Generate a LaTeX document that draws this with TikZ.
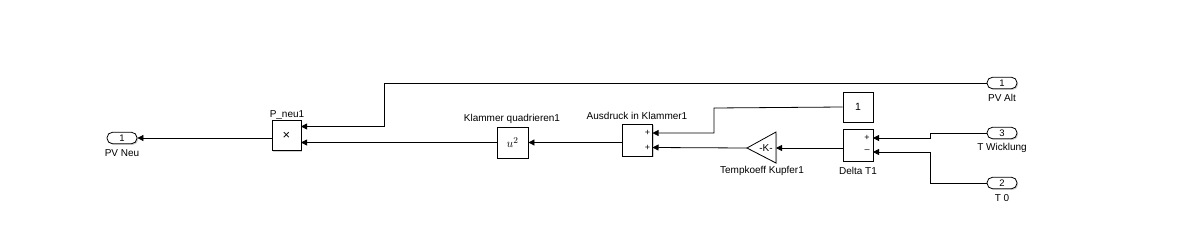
\documentclass[tikz,border=0pt]{standalone}
\usepackage{fontspec}
\setmainfont{Liberation Sans}
\usetikzlibrary{arrows.meta,shadows}
\begin{document}
\begin{tikzpicture}[x=1pt,y=-1pt,
  shd/.style={drop shadow={shadow xshift=1.2pt,shadow yshift=-1.2pt,fill=black!30,opacity=0.6}},
  blk/.style={draw, fill=white, line width=0.8pt, inner sep=0pt, shd, font=\fontsize{10.5}{11}\selectfont},
  port/.style={draw, fill=white, line width=0.8pt, rounded corners=5.5pt, minimum width=30pt, minimum height=11.5pt, inner sep=0pt, shd, font=\fontsize{9.5}{10}\selectfont},
  lbl/.style={font=\fontsize{10}{11}\selectfont, inner sep=0pt},
  sgn/.style={font=\fontsize{9}{9}\selectfont, inner sep=0pt},
  sig/.style={line width=0.8pt, -{Triangle[length=6pt,width=6pt]}},
]
\useasboundingbox (0,0) rectangle (1202,225);

% ports
\node[port] (pvneu) at (122,138) {1};
\node[lbl] (pvneul) at (122,153) {PV Neu};
\node[port] (pvalt) at (1002,83) {1};
\node[lbl] (pvaltl) at (1002,98) {PV Alt};
\node[port] (twick) at (1002,133) {3};
\node[lbl] (twickl) at (1002,148) {T Wicklung};
\node[port] (tnull) at (1002,183) {2};
\node[lbl] (tnulll) at (1002,198) {T 0};

% product
\node[blk, minimum width=29pt, minimum height=30pt] (pn) at (286.5,135.7) {\fontsize{13}{13}\selectfont ×};
\node[lbl] (pnl) at (287,115) {P\_neu1};
\coordinate (pnin1) at (301,126.5);
\coordinate (pnin2) at (301,142.5);
\coordinate (pnout) at (272,138);

% square
\node[blk, minimum width=31pt, minimum height=31pt] (sq) at (512.5,142.5) {\fontsize{13}{13}\selectfont$u^2$};
\node[lbl] (sql) at (512,119) {Klammer quadrieren1};

% sum
\node[blk, minimum width=30pt, minimum height=32pt] (sum) at (637.5,140) {};
\node[sgn] at (647.5,133) {+};
\node[sgn] at (647.5,147.5) {+};
\node[lbl] (suml) at (637,116) {Ausdruck in Klammer1};
\coordinate (sumin1) at (652.5,133);
\coordinate (sumin2) at (652.5,147.5);
\coordinate (sumout) at (622.5,142.5);

% constant
\node[blk, minimum width=30pt, minimum height=30pt] (const) at (858,107) {1};

% delta
\node[blk, minimum width=30pt, minimum height=32pt] (delta) at (858,145) {};
\node[sgn] at (867,137.5) {+};
\node[sgn] at (867,151.5) {\textendash};
\node[lbl] (deltal) at (858,171) {Delta T1};
\coordinate (din1) at (873,138);
\coordinate (din2) at (873,152);
\coordinate (dout) at (843,148);

% gain
\fill[black!30,opacity=0.6] (777.2,133.2) -- (748.2,149.2) -- (777.2,164.2) -- cycle;
\draw[fill=white, line width=0.8pt] (776,132) -- (747,148) -- (776,163) -- cycle;
\node[font=\fontsize{10}{10}\selectfont, inner sep=0pt] (gain) at (766,148) {-K-};
\coordinate (gin) at (776,148);
\coordinate (gout) at (747,148);
\node[lbl] (gainl) at (762,171) {Tempkoeff Kupfer1};

% connectors
\draw[sig] (pnout) -- (pvneu.east);
\draw[sig] (pvalt.west) -- (384,83) -- (384,126.5) -- (pnin1);
\draw[sig] (sq.west) -- (pnin2);
\draw[sig] (sumout) -- (sq.east);
\draw[sig] (const.west) -- (714,108) -- (714,133) -- (sumin1);
\draw[sig] (gout) -- (sumin2);
\draw[sig] (dout) -- (gin);
\draw[sig] (twick.west) -- (930,133) -- (930,138) -- (din1);
\draw[sig] (tnull.west) -- (930,183) -- (930,152) -- (din2);
\end{tikzpicture}
\end{document}
